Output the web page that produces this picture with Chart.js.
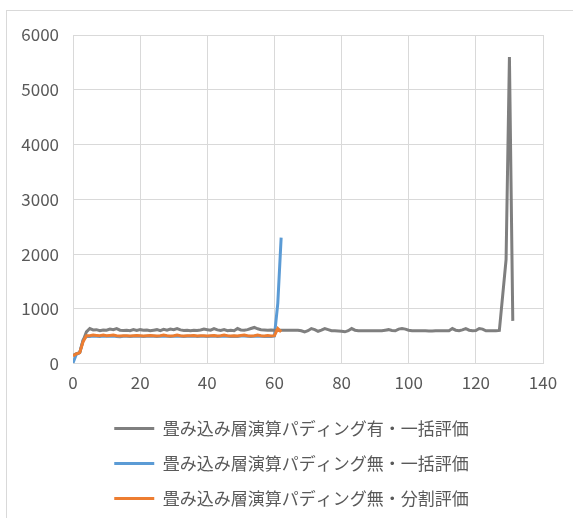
<!DOCTYPE html>
<html>
<head>
<meta charset="utf-8">
<script src="https://cdn.jsdelivr.net/npm/chart.js@4/dist/chart.umd.min.js"></script>
<style>
  html, body { margin: 0; padding: 0; background: #fff; overflow: hidden; }
  #frame { position: absolute; left: 6px; top: 10px; width: 620px; height: 620px; border: 1px solid #d9d9d9; box-sizing: border-box; }
  #wrap { position: absolute; left: 0; top: 0; width: 573px; height: 518px; }
</style>
</head>
<body>
<div id="frame"></div>
<div id="wrap"><canvas id="c"></canvas></div>
<script>
// Series names
const seriesNames = [
  '畳み込み層演算パディング有・一括評価',
  '畳み込み層演算パディング無・一括評価',
  '畳み込み層演算パディング無・分割評価'
];

// Axis ticks
const xTicks = [0, 20, 40, 60, 80, 100, 120, 140];
const yTicks = [0, 1000, 2000, 3000, 4000, 5000, 6000];

// Padding on, batch evaluation (steps 0..131)
const padBatch = [
  150, 180, 200, 420, 580, 640, 615, 620, 600, 615,
  610, 630, 620, 640, 610, 605, 610, 600, 620, 605,
  620, 610, 615, 600, 610, 620, 600, 625, 610, 630,
  620, 640, 615, 605, 610, 600, 610, 605, 615, 630,
  620, 610, 640, 615, 605, 620, 600, 610, 600, 640,
  615, 610, 620, 640, 660, 635, 620, 615, 610, 615,
  610, 610, 610, 610, 610, 610, 610, 610, 600, 580,
  600, 640, 620, 590, 610, 640, 620, 600, 600, 595,
  590, 580, 600, 640, 610, 600, 600, 600, 600, 600,
  600, 600, 600, 610, 620, 605, 600, 630, 640, 630,
  610, 600, 600, 600, 600, 600, 595, 595, 600, 600,
  600, 600, 600, 640, 610, 600, 615, 640, 610, 600,
  605, 640, 630, 600, 600, 600, 600, 605, 1250, 1900,
  5600, 780
];

// Padding off, batch evaluation (steps 0..62)
const noPadBatch = [
  10, 170, 200, 430, 500, 495, 505, 500, 495, 505,
  500, 500, 505, 495, 490, 500, 500, 495, 500, 505,
  500, 495, 500, 505, 500, 495, 500, 505, 500, 495,
  500, 505, 500, 495, 500, 500, 505, 495, 500, 500,
  495, 500, 505, 495, 500, 505, 500, 495, 500, 495,
  505, 505, 500, 495, 500, 505, 500, 495, 500, 495,
  505, 1100, 2300
];

// Padding off, split evaluation (steps 0..62)
const noPadSplit = [
  140, 180, 200, 400, 510, 510, 520, 515, 510, 520,
  510, 515, 520, 510, 505, 510, 510, 505, 510, 515,
  510, 505, 510, 515, 510, 505, 510, 520, 510, 505,
  510, 520, 510, 505, 510, 510, 515, 505, 510, 510,
  505, 510, 515, 505, 510, 520, 510, 505, 510, 505,
  515, 520, 510, 505, 510, 520, 510, 505, 515, 505,
  510, 640, 580
];

const seriesColors = ['#7f7f7f', '#5b9bd5', '#ed7d31'];
const seriesValues = [padBatch, noPadBatch, noPadSplit];
// draw order: orange over blue
const drawOrder = [1, 2, 0];

const toPoints = vals => vals.map((v, i) => ({ x: i, y: v }));

const baseFont = { family: '"Noto Sans CJK JP", "Noto Sans", sans-serif', size: 17 };

// nudge the legend block a little to the right of centre
const legendShift = {
  id: 'legendShift',
  afterLayout(chart) {
    if (chart.legend) { chart.legend.left += 20; chart.legend.right += 20; }
  }
};

new Chart(document.getElementById('c'), {
  type: 'line',
  data: {
    datasets: seriesValues.map((vals, k) => ({
      label: seriesNames[k],
      data: toPoints(vals),
      borderColor: seriesColors[k],
      backgroundColor: seriesColors[k],
      borderWidth: 3,
      pointRadius: 0,
      tension: 0,
      fill: false,
      order: drawOrder[k]
    }))
  },
  options: {
    responsive: true,
    maintainAspectRatio: false,
    animation: false,
    events: [],
    layout: { padding: { left: 0, right: 30, top: 35, bottom: 1 } },
    scales: {
      x: {
        type: 'linear',
        min: 0, max: 140,
        afterBuildTicks: s => { s.ticks = xTicks.map(v => ({ value: v })); },
        ticks: { color: '#595959', font: baseFont, padding: 9, maxRotation: 0, callback: v => String(v) },
        grid: { color: '#d9d9d9', lineWidth: 1, drawTicks: false },
        border: { color: '#d9d9d9', width: 1 }
      },
      y: {
        type: 'linear',
        min: 0, max: 6000,
        afterBuildTicks: s => { s.ticks = yTicks.map(v => ({ value: v })); },
        afterFit: s => { s.width = 73; },
        ticks: { color: '#595959', font: baseFont, padding: 14, callback: v => String(v) },
        grid: { color: '#d9d9d9', lineWidth: 1, drawTicks: false },
        border: { display: false }
      }
    },
    plugins: {
      tooltip: { enabled: false },
      legend: {
        position: 'bottom',
        labels: {
          usePointStyle: true,
          pointStyle: 'line',
          pointStyleWidth: 40,
          color: '#595959',
          font: baseFont,
          padding: 18,
          sort: (a, b) => a.datasetIndex - b.datasetIndex
        }
      }
    }
  },
  plugins: [legendShift]
});
</script>
</body>
</html>
